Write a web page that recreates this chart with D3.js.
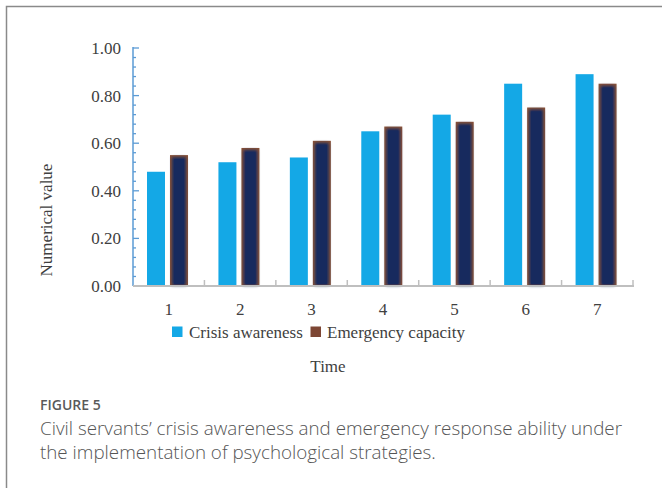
<!DOCTYPE html>
<html><head><meta charset="utf-8">
<script src="https://cdn.jsdelivr.net/npm/d3@7"></script>
<style>
html,body{margin:0;padding:0;background:#fff;}
svg{display:block;}
</style></head>
<body>
<svg id="chart" width="662" height="488"></svg>
<script>
const categories = ["1","2","3","4","5","6","7"];
const seriesNames = ["Crisis awareness","Emergency capacity"];
const crisisAwareness = [0.48,0.52,0.54,0.65,0.72,0.85,0.89];
const emergencyCapacity = [0.55,0.58,0.61,0.67,0.69,0.75,0.85];
const yTickValues = [0,0.2,0.4,0.6,0.8,1.0];
const captionTitle = "FIGURE 5";
const captionLines = ["Civil servants\u2019 crisis awareness and emergency response ability under","the implementation of psychological strategies."];

(function(){
const svg = d3.select("#chart");
const serif = "'Liberation Serif','Times New Roman',serif";

// frame
svg.append("path").attr("d","M6.5,488 L6.5,6.5 L662,6.5")
  .attr("fill","none").attr("stroke","#8a8a8a").attr("stroke-width",1.5);

const defs = svg.append("defs");
defs.append("filter").attr("id","glow").attr("x","-30%").attr("y","-30%").attr("width","160%").attr("height","160%")
  .append("feGaussianBlur").attr("stdDeviation",1.8);

const pLeft=133, pRight=633, pTop=48, pBottom=286;
const x0 = d3.scaleBand().domain(categories).range([pLeft,pRight]).padding(0);
const x1 = d3.scaleBand().domain(seriesNames).range([14,55]).paddingInner(5/23).paddingOuter(0);
const y = d3.scaleLinear().domain([0,1]).range([pBottom,pTop]);

const data = categories.map((c,i)=>({cat:c, vals:[crisisAwareness[i], emergencyCapacity[i]]}));

// bars
const g = svg.append("g");
data.forEach(d=>{
  const gx = x0(d.cat);
  g.append("rect").attr("x",gx+x1(seriesNames[0])).attr("y",y(d.vals[0]))
    .attr("width",x1.bandwidth()).attr("height",y(0)-y(d.vals[0])).attr("fill","#14a8e6");
  const bx = gx+x1(seriesNames[1]), by = y(d.vals[1]), bw = x1.bandwidth(), bh = y(0)-y(d.vals[1]);
  g.append("rect").attr("x",bx).attr("y",by).attr("width",bw).attr("height",bh).attr("fill","#8c5236");
  g.append("rect").attr("x",bx+2).attr("y",by+2).attr("width",bw-4).attr("height",bh-2.5)
    .attr("fill","#182a5e").attr("filter","url(#glow)");
  g.append("rect").attr("x",bx+4).attr("y",by+4).attr("width",bw-8).attr("height",Math.max(0,bh-6))
    .attr("fill","#172a5e");
});

// y axis
const yMinor = d3.range(0,1.0001,0.04);
const ya = svg.append("g").attr("transform",`translate(${pLeft},0)`);
ya.append("line").attr("x1",0).attr("x2",0).attr("y1",pTop-1).attr("y2",pBottom).attr("stroke","#5b9bd5").attr("stroke-width",1.5);
yMinor.forEach(v=>{
  const major = yTickValues.some(t=>Math.abs(t-v)<1e-6);
  ya.append("line").attr("x1",0).attr("x2",major?6:3).attr("y1",y(v)).attr("y2",y(v))
    .attr("stroke","#5b9bd5").attr("stroke-width",1.3);
});
ya.selectAll("text.yt").data(yTickValues).join("text").attr("class","yt")
  .attr("x",-12).attr("y",v=>y(v)).attr("dy","0.35em").attr("text-anchor","end")
  .attr("font-family",serif).attr("font-size",17).attr("fill","#404040")
  .text(v=>d3.format(".2f")(v));

// x axis
const xa = svg.append("g").attr("transform",`translate(0,${pBottom})`);
xa.append("line").attr("x1",pLeft).attr("x2",pRight+1).attr("y1",0).attr("y2",0).attr("stroke","#bfbfbf").attr("stroke-width",2);
categories.forEach(c=>{
  const tx = x0(c)+x0.bandwidth();
  xa.append("line").attr("x1",tx).attr("x2",tx).attr("y1",0).attr("y2",-6).attr("stroke","#bfbfbf").attr("stroke-width",1.5);
});
xa.selectAll("text.xt").data(categories).join("text").attr("class","xt")
  .attr("x",c=>x0(c)+x0.bandwidth()/2).attr("y",23).attr("dy","0.35em").attr("text-anchor","middle")
  .attr("font-family",serif).attr("font-size",17).attr("fill","#404040").text(c=>c);

// y title
svg.append("text").attr("transform","translate(46,220) rotate(-90)").attr("text-anchor","middle").attr("dy","0.35em")
  .attr("font-family",serif).attr("font-size",17).attr("fill","#404040").text("Numerical value");

// legend
const legendColors = ["#14a8e6","#7d4634"];
const lg = svg.append("g");
const legItems = [{x:172,tx:189},{x:310.5,tx:327}];
seriesNames.forEach((s,i)=>{
  lg.append("rect").attr("x",legItems[i].x).attr("y",326.5).attr("width",10.5).attr("height",10.5).attr("fill",legendColors[i]);
  lg.append("text").attr("x",legItems[i].tx).attr("y",332).attr("dy","0.35em")
    .attr("font-family",serif).attr("font-size",17).attr("fill","#404040").text(s);
});

// x title
svg.append("text").attr("x",328).attr("y",366).attr("dy","0.35em").attr("text-anchor","middle")
  .attr("font-family",serif).attr("font-size",17).attr("fill","#404040").text("Time");

// caption
svg.append("text").attr("x",40).attr("y",405).attr("dy","0.35em")
  .attr("font-family","'Open Sans',sans-serif").attr("font-weight",600).attr("font-size",14).attr("fill","#5a5a5a").text(captionTitle);
captionLines.forEach((l,i)=>{
  svg.append("text").attr("x",40).attr("y",428+i*24).attr("dy","0.35em")
    .attr("font-family","'Open Sans',sans-serif").attr("font-weight",300).attr("font-size",18.8).attr("fill","#555").text(l);
});
})();
</script>
</body></html>
